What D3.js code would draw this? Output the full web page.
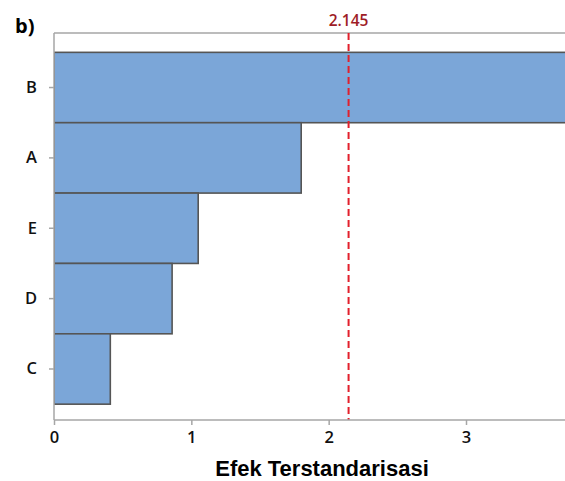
<!DOCTYPE html>
<html>
<head>
<meta charset="utf-8">
<script src="https://cdn.jsdelivr.net/npm/d3@7"></script>
<style>
  body { margin: 0; background: #fff; }
</style>
</head>
<body>
<div id="wrapper"></div>
<script>
// Pareto chart data (order top to bottom)
const factors = ["B", "A", "E", "D", "C"];
const effects = [4.2, 1.80, 1.05, 0.86, 0.41];
const xTicks = [0, 1, 2, 3];
const refValue = 2.145;

const width = 565, height = 481;

const svg = d3.select("#wrapper")
  .append("svg")
  .attr("width", width)
  .attr("height", height);

// plot frame
const plotLeft = 54, plotTop = 33, plotBottom = 420;

const x = d3.scaleLinear().domain([0, 3]).range([plotLeft, 466]);
const y = d3.scaleBand().domain(factors).range([plotTop, plotBottom])
  .paddingInner(0).paddingOuter(0.25).align(0.55);

// clip so long bars stop at the window edge
svg.append("clipPath").attr("id", "plotclip")
  .append("rect").attr("x", plotLeft).attr("y", plotTop)
  .attr("width", width - plotLeft).attr("height", plotBottom - plotTop);

// top border
svg.append("line")
  .attr("x1", plotLeft).attr("x2", width)
  .attr("y1", plotTop).attr("y2", plotTop)
  .attr("stroke", "#a6a6a6").attr("stroke-width", 1.5);

// bars
svg.append("g")
  .attr("clip-path", "url(#plotclip)")
  .selectAll("rect")
  .data(factors)
  .enter()
  .append("rect")
    .attr("x", x(0))
    .attr("y", d => y(d))
    .attr("width", (d, i) => x(effects[i]) - x(0))
    .attr("height", y.bandwidth())
    .attr("fill", "#7ba6d8")
    .attr("stroke", "#555")
    .attr("stroke-width", 1.6);

// reference line
svg.append("line")
  .attr("x1", x(refValue)).attr("x2", x(refValue))
  .attr("y1", plotTop).attr("y2", plotBottom)
  .attr("stroke", "#e2202c")
  .attr("stroke-width", 2)
  .attr("stroke-dasharray", "7,4");

svg.append("text")
  .attr("x", x(refValue))
  .attr("y", 26)
  .attr("text-anchor", "middle")
  .style("font-family", "'Open Sans', 'Noto Sans', sans-serif")
  .style("font-size", "15.5px")
  .style("font-weight", "600")
  .style("fill", "#9e1c26")
  .text("2.145");

// y axis
const yAxis = svg.append("g")
  .attr("transform", `translate(${plotLeft},0)`)
  .call(d3.axisLeft(y).tickSize(5).tickPadding(12));
yAxis.select(".domain").attr("stroke", "#a6a6a6").attr("stroke-width", 1.5)
  .attr("d", `M0,${plotTop}V${plotBottom}`);
yAxis.selectAll(".tick line").attr("stroke", "#a6a6a6").attr("stroke-width", 1.5);
yAxis.selectAll(".tick text")
  .style("font-family", "'Open Sans', 'Noto Sans', sans-serif")
  .style("font-size", "16.5px")
  .style("font-weight", "600")
  .style("fill", "#111");

// x axis
const xAxis = svg.append("g")
  .attr("transform", `translate(0,${plotBottom})`)
  .call(d3.axisBottom(x).tickValues(xTicks).tickFormat(d3.format("d")).tickSize(5).tickPadding(6));
xAxis.select(".domain").attr("stroke", "#a6a6a6").attr("stroke-width", 1.5)
  .attr("d", `M${plotLeft},0H${width}`);
xAxis.selectAll(".tick line").attr("stroke", "#a6a6a6").attr("stroke-width", 1.5);
xAxis.selectAll(".tick text")
  .style("font-family", "'Open Sans', 'Noto Sans', sans-serif")
  .style("font-size", "16.5px")
  .style("font-weight", "600")
  .style("fill", "#111");

// axis title
svg.append("text")
  .attr("x", 322)
  .attr("y", 476)
  .attr("text-anchor", "middle")
  .style("font-family", "'Liberation Sans', Arial, sans-serif")
  .style("font-size", "22px")
  .style("font-weight", "bold")
  .style("fill", "#000")
  .text("Efek Terstandarisasi");

// panel label
svg.append("text")
  .attr("x", 15)
  .attr("y", 33)
  .style("font-family", "'Open Sans', 'Noto Sans', sans-serif")
  .style("font-size", "20px")
  .style("font-weight", "bold")
  .style("fill", "#000")
  .text("b)");
</script>
</body>
</html>
